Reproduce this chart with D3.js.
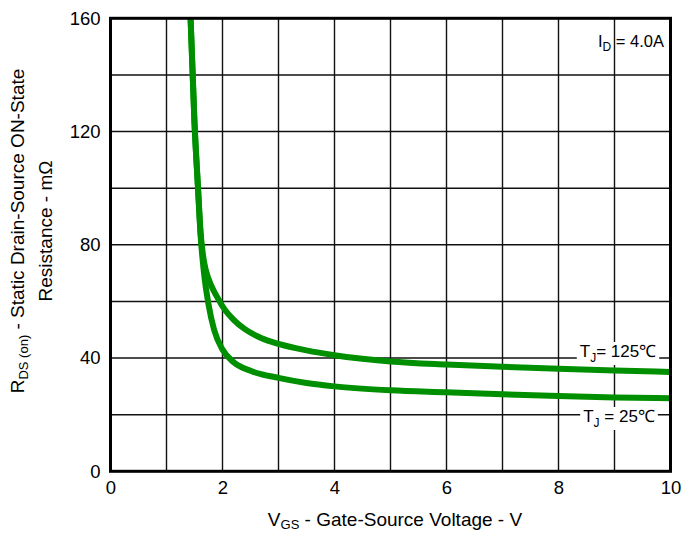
<!DOCTYPE html>
<html><head><meta charset="utf-8">
<script src="https://cdn.jsdelivr.net/npm/d3@7"></script>
<style>body{margin:0;background:#fff}svg{display:block}text{font-family:"Liberation Sans",Arial,sans-serif;fill:#000}</style>
</head><body>
<svg id="c" width="683" height="533"></svg>
<script>
const xTicks = [0, 2, 4, 6, 8, 10];
const yTicks = [0, 40, 80, 120, 160];
const xGrid = [1,2,3,4,5,6,7,8,9];
const yGrid = [20,40,60,80,100,120,140];
const vgs125 = [1.43,1.5,1.56,1.61,1.67,1.75,1.85,1.95,2.0,2.2,2.4,2.7,3,3.5,4,5,6,7,8,9,10];
const r125   = [160,123,101,84,74,68,63.5,60,58.3,53.5,50.2,47,45,42.7,41,38.8,37.7,36.9,36.2,35.6,35.1];
const vgs25  = [1.43,1.5,1.56,1.61,1.67,1.75,1.85,2.0,2.2,2.5,3,3.5,4,5,6,7,8,9,10];
const r25    = [160,123,101,83,70,59,50,43,38.5,35.5,33,31.2,30,28.6,27.9,27.2,26.6,26.1,25.8];

const svg = d3.select("#c");
const x = d3.scaleLinear().domain([0,10]).range([110.5,670.5]);
const y = d3.scaleLinear().domain([0,160]).range([471.3,18.3]);

// grid
svg.append("g").selectAll("line").data(xGrid).join("line")
  .attr("x1",d=>x(d)).attr("x2",d=>x(d)).attr("y1",y(0)).attr("y2",y(160))
  .attr("stroke","#111").attr("stroke-width",1.4);
svg.append("g").selectAll("line").data(yGrid).join("line")
  .attr("y1",d=>y(d)).attr("y2",d=>y(d)).attr("x1",x(0)).attr("x2",x(10))
  .attr("stroke","#111").attr("stroke-width",1.4);

// curves
const line = d3.line().x(d=>x(d[0])).y(d=>y(d[1])).curve(d3.curveMonotoneX);
svg.append("clipPath").attr("id","pc").append("rect")
  .attr("x",x(0)).attr("y",y(160)).attr("width",x(10)-x(0)).attr("height",y(0)-y(160));
[[vgs125,r125],[vgs25,r25]].forEach(([xs,ys])=>{
  svg.append("path").datum(xs.map((v,i)=>[v,ys[i]])).attr("d",line)
    .attr("fill","none").attr("stroke","#008f00").attr("stroke-width",6)
    .attr("clip-path","url(#pc)");
});

// frame
svg.append("rect").attr("x",x(0)).attr("y",y(160)).attr("width",x(10)-x(0)).attr("height",y(0)-y(160))
  .attr("fill","none").attr("stroke","#000").attr("stroke-width",3);

// axes labels via d3 axes (no domain / tick lines)
const xa = svg.append("g").attr("transform",`translate(0,${y(0)})`)
  .call(d3.axisBottom(x).tickValues(xTicks).tickSize(0).tickPadding(10).tickFormat(d3.format("d")));
xa.select(".domain").remove();
xa.selectAll("text").attr("font-size",18.5).attr("font-family","Liberation Sans, Arial, sans-serif").attr("fill","#000");
const ya = svg.append("g").attr("transform",`translate(${x(0)},0)`)
  .call(d3.axisLeft(y).tickValues(yTicks).tickSize(0).tickPadding(10).tickFormat(d3.format("d")));
ya.select(".domain").remove();
ya.selectAll("text").attr("font-size",18.5).attr("font-family","Liberation Sans, Arial, sans-serif").attr("fill","#000");

// axis titles
const xt = svg.append("text").attr("x",395).attr("y",526).attr("text-anchor","middle").attr("font-size",19);
xt.append("tspan").text("V");
xt.append("tspan").attr("font-size",13).attr("dy",3).text("GS");
xt.append("tspan").attr("dy",-3).text(" - Gate-Source Voltage - V");

const yt1 = svg.append("text").attr("transform","translate(24,231) rotate(-90)").attr("text-anchor","middle").attr("font-size",19);
yt1.append("tspan").text("R");
yt1.append("tspan").attr("font-size",13).attr("dy",4).text("DS (on)");
yt1.append("tspan").attr("dy",-4).text(" - Static Drain-Source ON-State");
svg.append("text").attr("transform","translate(52,231) rotate(-90)").attr("text-anchor","middle").attr("font-size",19)
  .text("Resistance - m\u03A9");

// annotations
const idl = svg.append("text").attr("x",664).attr("y",47).attr("text-anchor","end").attr("font-size",16.5);
idl.append("tspan").text("I");
idl.append("tspan").attr("font-size",12).attr("dy",4).text("D");
idl.append("tspan").attr("dy",-4).text(" = 4.0A");

function label(cx, base, sep, val){
  const g = svg.append("g");
  const bg = g.append("rect").attr("fill","#fff");
  const t = g.append("text").attr("x",cx).attr("y",base).attr("text-anchor","middle").attr("font-size",17);
  t.append("tspan").text("T");
  t.append("tspan").attr("font-size",12).attr("dy",5).text("J");
  t.append("tspan").attr("dy",-5).text(sep + val + "\u2103");
  const b = t.node().getBBox();
  bg.attr("x",b.x-3).attr("y",b.y).attr("width",b.width+6).attr("height",b.height);
}
label(618, 357, "= ", "125");
label(619, 422, " = ", "25");
</script>
</body></html>
